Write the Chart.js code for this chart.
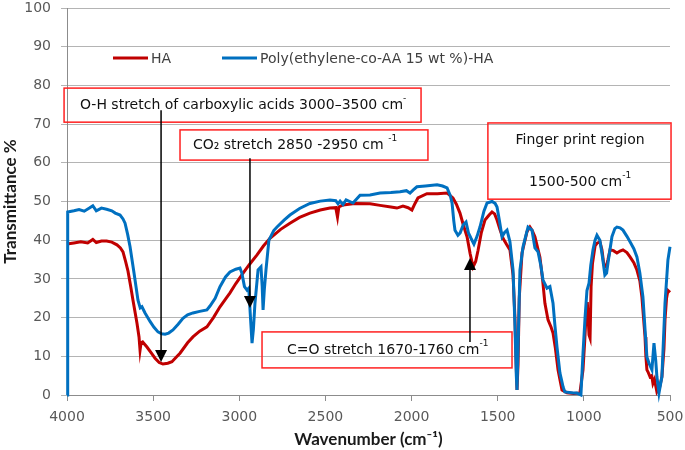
<!DOCTYPE html>
<html>
<head>
<meta charset="utf-8">
<script src="https://cdn.jsdelivr.net/npm/chart.js@4.4.1/dist/chart.umd.min.js"></script>
<style>
  html, body { margin: 0; padding: 0; background: #fff; }
</style>
</head>
<body>
<canvas id="ftir" width="685" height="450"></canvas>
<script>
// HA spectrum (wavenumber cm-1, transmittance %)
const haWavenumber = [4000, 3960, 3920, 3880, 3850, 3830, 3800, 3770, 3740, 3710, 3690, 3675, 3660, 3646, 3630, 3617, 3594, 3582, 3576, 3570, 3561, 3536, 3510, 3489, 3465, 3443, 3415, 3391, 3365, 3344, 3300, 3269, 3230, 3188, 3150, 3112, 3080, 3054, 3020, 2978, 2940, 2897, 2860, 2822, 2760, 2706, 2650, 2590, 2530, 2474, 2440, 2430, 2422, 2398, 2330, 2241, 2183, 2120, 2085, 2050, 2020, 1998, 1980, 1963, 1911, 1850, 1794, 1760, 1740, 1719, 1700, 1678, 1660, 1643, 1628, 1614, 1595, 1574, 1550, 1533, 1518, 1504, 1485, 1469, 1450, 1429, 1411, 1400, 1393, 1388, 1382, 1375, 1359, 1330, 1313, 1300, 1284, 1255, 1240, 1226, 1208, 1190, 1179, 1165, 1150, 1127, 1098, 1060, 1023, 1005, 995, 988, 980, 970, 964, 958, 950, 935, 924, 907, 895, 885, 878, 868, 860, 848, 828, 808, 790, 773, 750, 732, 710, 692, 675, 663, 645, 640, 634, 628, 616, 606, 599, 590, 576, 560, 547, 535, 529, 520, 512, 500];
const haTransmittance = [39.0, 39.3, 39.6, 39.3, 40.2, 39.4, 39.8, 39.8, 39.5, 38.8, 38.0, 37.0, 34.5, 32.0, 28.0, 24.5, 18.6, 15.0, 11.6, 13.5, 13.7, 12.4, 10.8, 9.5, 8.4, 8.0, 8.2, 8.6, 9.8, 10.8, 13.5, 15.0, 16.5, 17.6, 20.0, 22.8, 24.8, 26.4, 28.8, 31.5, 33.8, 36.2, 38.5, 40.5, 42.8, 44.4, 45.9, 47.0, 47.8, 48.3, 48.4, 46.0, 48.6, 49.1, 49.5, 49.4, 49.0, 48.6, 48.3, 48.8, 48.4, 47.8, 49.5, 50.9, 52.0, 52.0, 52.2, 50.9, 49.3, 47.0, 44.0, 40.9, 36.5, 33.1, 34.5, 37.4, 42.0, 45.2, 46.5, 47.3, 46.8, 45.2, 42.5, 40.5, 39.0, 37.5, 31.0, 20.0, 8.0, 1.3, 8.0, 25.0, 36.7, 42.2, 43.4, 42.5, 40.9, 35.6, 30.0, 23.7, 19.4, 17.5, 16.0, 12.0, 6.5, 1.3, 0.6, 0.4, 0.5, 6.5, 14.0, 20.2, 24.0, 15.5, 14.7, 28.0, 34.0, 38.5, 39.2, 39.6, 37.5, 34.0, 33.1, 33.5, 35.0, 37.5, 37.3, 36.7, 37.2, 37.5, 36.8, 35.7, 34.2, 32.3, 29.5, 25.3, 15.0, 10.0, 6.5, 6.0, 4.7, 5.0, 3.0, 4.0, 0.8, 2.0, 4.7, 12.0, 19.4, 25.0, 27.0, 26.5];

// Poly(ethylene-co-AA 15 wt %)-HA spectrum
const polyWavenumber = [4000, 3996, 3960, 3930, 3900, 3870, 3850, 3830, 3800, 3770, 3740, 3720, 3692, 3675, 3663, 3648, 3634, 3611, 3588, 3575, 3565, 3547, 3518, 3495, 3472, 3450, 3431, 3410, 3385, 3355, 3327, 3300, 3269, 3230, 3188, 3170, 3140, 3112, 3080, 3054, 3020, 2996, 2985, 2970, 2955, 2945, 2935, 2926, 2918, 2909, 2891, 2874, 2867, 2862, 2855, 2845, 2828, 2800, 2781, 2740, 2706, 2650, 2590, 2530, 2474, 2440, 2427, 2415, 2398, 2380, 2340, 2299, 2241, 2183, 2120, 2067, 2030, 2009, 1990, 1969, 1920, 1852, 1820, 1794, 1775, 1765, 1755, 1748, 1731, 1718, 1700, 1684, 1670, 1655, 1638, 1620, 1603, 1580, 1562, 1533, 1515, 1504, 1490, 1475, 1460, 1446, 1429, 1411, 1400, 1392, 1388, 1382, 1371, 1353, 1324, 1301, 1284, 1266, 1250, 1237, 1214, 1197, 1179, 1168, 1156, 1139, 1120, 1110, 1060, 1040, 1017, 1005, 993, 982, 970, 960, 947, 935, 924, 907, 893, 878, 868, 860, 837, 820, 808, 790, 773, 750, 732, 710, 692, 675, 657, 645, 634, 620, 605, 593, 583, 576, 564, 547, 529, 512, 500];
const polyTransmittance = [0.0, 47.3, 47.6, 47.9, 47.5, 48.3, 48.9, 47.6, 48.3, 48.0, 47.6, 47.0, 46.5, 45.5, 44.4, 41.5, 38.3, 31.5, 24.5, 22.5, 22.8, 21.2, 19.0, 17.5, 16.3, 15.8, 15.7, 16.0, 16.8, 18.3, 19.8, 20.7, 21.2, 21.6, 22.0, 23.0, 25.0, 28.0, 30.5, 31.8, 32.5, 32.8, 31.5, 28.0, 27.1, 27.6, 20.0, 13.4, 17.0, 23.7, 32.3, 33.1, 28.0, 22.0, 27.0, 32.3, 40.0, 42.5, 43.4, 45.2, 46.5, 48.2, 49.5, 50.1, 50.4, 50.2, 49.4, 50.1, 49.2, 50.4, 49.6, 51.6, 51.7, 52.2, 52.3, 52.5, 52.8, 52.2, 53.0, 53.8, 54.0, 54.3, 54.0, 53.5, 51.5, 49.6, 45.0, 42.6, 41.3, 41.9, 44.0, 44.7, 41.9, 40.5, 39.0, 41.0, 43.4, 47.5, 49.6, 50.0, 49.5, 48.6, 45.0, 40.9, 42.0, 42.6, 39.6, 32.3, 18.0, 5.0, 1.3, 12.0, 32.3, 38.3, 43.4, 42.6, 38.0, 37.0, 33.5, 29.7, 27.6, 28.0, 23.7, 18.0, 12.4, 5.7, 2.0, 0.8, 0.5, 0.5, 0.0, 10.8, 20.0, 27.0, 28.9, 33.5, 37.5, 40.0, 41.3, 40.0, 36.0, 31.0, 31.5, 34.1, 40.9, 43.0, 43.4, 43.2, 42.6, 41.0, 39.6, 37.8, 35.7, 31.5, 25.3, 17.0, 9.8, 8.0, 6.5, 13.4, 9.0, 4.7, 0.5, 4.7, 23.7, 34.9, 38.3];

const seriesNames = ['HA', 'Poly(ethylene-co-AA 15 wt %)-HA'];
const seriesColors = ['#C00000', '#0070C0'];
const xTickValues = [4000, 3500, 3000, 2500, 2000, 1500, 1000, 500];

// annotation boxes and arrows, placed in data units
const notes = [
  { box: [4017, 1945, 79.3, 70.5], lines: [{ x: 3925, y: 74.9, align: 'left', parts: [['O-H stretch of carboxylic acids 3000\u20133500 cm', 0], ['-', 1]] }] },
  { box: [3344, 1905, 68.5, 60.7], lines: [{ x: 3269, y: 64.6, align: 'left', parts: [['CO\u2082 stretch 2850 -2950 cm ', 0], ['-1', 1]] }] },
  { box: [1557, 494, 70.3, 50.6], lines: [
      { x: 1022, y: 65.9, align: 'center', parts: [['Finger print region', 0]] },
      { x: 1022, y: 55.0, align: 'center', parts: [['1500-500 cm', 0], ['-1', 1]] }] },
  { box: [2868, 1417, 16.3, 7.0], lines: [{ x: 2723, y: 11.6, align: 'left', parts: [['C=O stretch 1670-1760 cm', 0], ['-1', 1]] }] }
];
const arrows = [
  { x: 3454, from: 73.6, to: 8.5 },
  { x: 2938, from: 61.2, to: 22.5 },
  { x: 1661, from: 13.7, to: 35.4 }
];

function toPoints(xs, ys) {
  return xs.map((x, i) => ({ x: x, y: ys[i] }));
}

const TEXT_FONT = '14px "DejaVu Sans", Verdana, sans-serif';
const SUP_FONT = '9px "DejaVu Sans", Verdana, sans-serif';

function drawParts(ctx, parts, x, y, align) {
  let total = 0;
  parts.forEach(p => {
    ctx.font = p[1] ? SUP_FONT : TEXT_FONT;
    total += ctx.measureText(p[0]).width;
  });
  let cx = align === 'center' ? x - total / 2 : x;
  ctx.textAlign = 'left';
  ctx.textBaseline = 'middle';
  parts.forEach(p => {
    ctx.font = p[1] ? SUP_FONT : TEXT_FONT;
    ctx.fillText(p[0], cx, p[1] ? y - 6 : y);
    cx += ctx.measureText(p[0]).width;
  });
}

const notesPlugin = {
  id: 'notes',
  afterDatasetsDraw(chart) {
    const ctx = chart.ctx;
    const xs = chart.scales.x, ys = chart.scales.y;
    ctx.save();

    // legend inside the plot
    const area = chart.chartArea;
    const legendY = area.top + 50;
    const legendX = [area.left + 46, area.left + 155];
    chart.data.datasets.forEach((ds, i) => {
      ctx.strokeStyle = ds.borderColor;
      ctx.lineWidth = 3;
      ctx.beginPath();
      ctx.moveTo(legendX[i], legendY);
      ctx.lineTo(legendX[i] + 35, legendY);
      ctx.stroke();
      ctx.fillStyle = '#404040';
      ctx.font = TEXT_FONT;
      ctx.textAlign = 'left';
      ctx.textBaseline = 'middle';
      ctx.fillText(ds.label, legendX[i] + 38, legendY + 1);
    });

    notes.forEach(n => {
      const l = xs.getPixelForValue(n.box[0]);
      const r = xs.getPixelForValue(n.box[1]);
      const t = ys.getPixelForValue(n.box[2]);
      const b = ys.getPixelForValue(n.box[3]);
      ctx.strokeStyle = '#FF2020';
      ctx.lineWidth = 1.5;
      ctx.strokeRect(l, t, r - l, b - t);
      ctx.fillStyle = '#111';
      n.lines.forEach(line => {
        drawParts(ctx, line.parts, xs.getPixelForValue(line.x), ys.getPixelForValue(line.y), line.align);
      });
    });

    arrows.forEach(a => {
      const x = xs.getPixelForValue(a.x);
      const y0 = ys.getPixelForValue(a.from);
      const y1 = ys.getPixelForValue(a.to);
      const dir = y1 > y0 ? 1 : -1;
      ctx.strokeStyle = '#000';
      ctx.lineWidth = 1.5;
      ctx.beginPath();
      ctx.moveTo(x, y0);
      ctx.lineTo(x, y1 - dir * 10);
      ctx.stroke();
      ctx.fillStyle = '#000';
      ctx.beginPath();
      ctx.moveTo(x, y1);
      ctx.lineTo(x - 6, y1 - dir * 12);
      ctx.lineTo(x + 6, y1 - dir * 12);
      ctx.closePath();
      ctx.fill();
    });
    ctx.restore();
  }
};

new Chart(document.getElementById('ftir'), {
  type: 'line',
  data: {
    datasets: [
      {
        label: seriesNames[0],
        data: toPoints(haWavenumber, haTransmittance),
        borderColor: seriesColors[0],
        backgroundColor: seriesColors[0],
        borderWidth: 3,
        pointRadius: 0,
        tension: 0,
        clip: false,
        order: 1
      },
      {
        label: seriesNames[1],
        data: toPoints(polyWavenumber, polyTransmittance),
        borderColor: seriesColors[1],
        backgroundColor: seriesColors[1],
        borderWidth: 3,
        pointRadius: 0,
        tension: 0,
        clip: false,
        order: 0
      }
    ]
  },
  options: {
    responsive: false,
    animation: false,
    layout: { padding: 0 },
    plugins: {
      legend: { display: false },
      tooltip: { enabled: false }
    },
    scales: {
      x: {
        type: 'linear',
        reverse: true,
        min: 500,
        max: 4000,
        afterBuildTicks(scale) {
          scale.ticks = xTickValues.map(v => ({ value: v }));
        },
        afterFit(scale) {
          scale.height = 55;
          scale.paddingLeft = 0;
          scale.paddingRight = 15;
        },
        ticks: {
          color: '#595959',
          font: { family: '"DejaVu Sans", Verdana, sans-serif', size: 14 },
          padding: 8,
          maxRotation: 0,
          callback: v => String(v)
        },
        grid: { drawOnChartArea: false, color: '#8c8c8c', tickLength: 6 },
        border: { color: '#8c8c8c' },
        title: {
          display: true,
          text: 'Wavenumber (cm\u207B\u00B9)',
          color: '#1a1a1a',
          font: { family: 'Lato, "Liberation Sans", sans-serif', size: 17, weight: 'bold' },
          padding: { top: 4, bottom: 0 }
        }
      },
      y: {
        min: 0,
        max: 100,
        afterFit(scale) {
          scale.width = 67;
          scale.paddingTop = 8;
          scale.paddingBottom = 0;
        },
        ticks: {
          stepSize: 10,
          color: '#595959',
          font: { family: '"DejaVu Sans", Verdana, sans-serif', size: 14 },
          padding: 10
        },
        grid: { color: '#b4b4b4', tickLength: 6 },
        border: { color: '#8c8c8c' },
        title: {
          display: true,
          text: 'Transmittance %',
          color: '#1a1a1a',
          font: { family: 'Lato, "Liberation Sans", sans-serif', size: 17, weight: 'bold' },
          padding: { top: 0, bottom: 4 }
        }
      }
    }
  },
  plugins: [notesPlugin]
});
</script>
</body>
</html>
